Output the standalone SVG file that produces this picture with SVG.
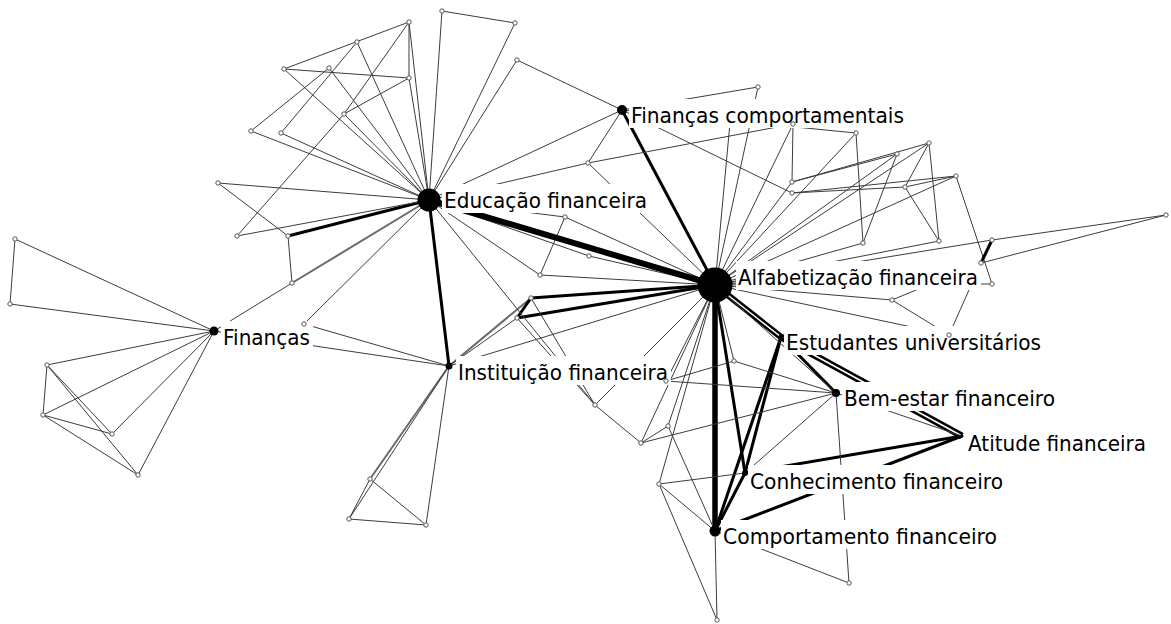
<svg xmlns="http://www.w3.org/2000/svg" width="1171" height="624" viewBox="0 0 1171 624">
<style>
.t{stroke:#3c3c3c;stroke-width:1;fill:none}
.g{stroke:#6a6a6a;stroke-width:2;fill:none}
.k{stroke:#000;stroke-width:3;fill:none}
.K{stroke:#000;stroke-width:6;fill:none}
.s{fill:#fff;stroke:#555;stroke-width:1}
.h{fill:#000}
.bg{fill:#fff}
.lb{font-family:"DejaVu Sans","Liberation Sans",sans-serif;font-size:22px;fill:#000}
</style>
<rect width="1171" height="624" fill="#fff"/>
<g id="edges">
<!-- upper-left cluster -->
<line class="t" x1="442" y1="11" x2="515" y2="23"/>
<line class="t" x1="442" y1="11" x2="429" y2="200"/>
<line class="t" x1="515" y1="23" x2="429" y2="200"/>
<line class="t" x1="409" y1="22" x2="429" y2="200"/>
<line class="t" x1="409" y1="22" x2="409" y2="78"/>
<line class="t" x1="284" y1="69" x2="409" y2="22"/>
<line class="t" x1="284" y1="69" x2="409" y2="78"/>
<line class="t" x1="357" y1="42" x2="429" y2="200"/>
<line class="t" x1="357" y1="42" x2="281" y2="133"/>
<line class="t" x1="329" y1="68" x2="429" y2="200"/>
<line class="t" x1="329" y1="68" x2="251" y2="131"/>
<line class="t" x1="409" y1="78" x2="344" y2="114"/>
<line class="t" x1="409" y1="22" x2="344" y2="114"/>
<line class="t" x1="409" y1="78" x2="429" y2="200"/>
<line class="t" x1="344" y1="114" x2="429" y2="200"/>
<line class="t" x1="284" y1="69" x2="429" y2="200"/>
<line class="t" x1="281" y1="133" x2="429" y2="200"/>
<line class="t" x1="251" y1="131" x2="429" y2="200"/>
<line class="t" x1="218" y1="183" x2="429" y2="200"/>
<line class="t" x1="517" y1="60" x2="429" y2="200"/>
<line class="t" x1="517" y1="60" x2="622" y2="110"/>
<line class="t" x1="588" y1="163" x2="429" y2="200"/>
<line class="t" x1="218" y1="183" x2="288" y2="236"/>
<line class="t" x1="288" y1="236" x2="292" y2="283"/>
<line class="k" x1="288" y1="236" x2="429" y2="200"/>
<line class="t" x1="237" y1="236" x2="429" y2="200"/>
<line class="t" x1="237" y1="236" x2="344" y2="114"/>
<line class="t" x1="292" y1="283" x2="214" y2="331"/>
<line class="g" x1="292" y1="283" x2="429" y2="200"/>
<line class="t" x1="304" y1="324" x2="429" y2="200"/>
<line class="t" x1="304" y1="324" x2="449" y2="366"/>
<line class="t" x1="214" y1="331" x2="449" y2="366"/>
<!-- Financas cluster -->
<line class="t" x1="15" y1="239" x2="10" y2="304"/>
<line class="t" x1="15" y1="239" x2="214" y2="331"/>
<line class="t" x1="10" y1="304" x2="214" y2="331"/>
<line class="t" x1="47" y1="365" x2="214" y2="331"/>
<line class="t" x1="43" y1="415" x2="214" y2="331"/>
<line class="t" x1="47" y1="365" x2="43" y2="415"/>
<line class="t" x1="47" y1="365" x2="112" y2="434"/>
<line class="t" x1="47" y1="365" x2="138" y2="475"/>
<line class="t" x1="43" y1="415" x2="112" y2="434"/>
<line class="t" x1="43" y1="415" x2="138" y2="475"/>
<line class="t" x1="112" y1="434" x2="214" y2="331"/>
<line class="t" x1="138" y1="475" x2="214" y2="331"/>
<!-- Instituicao -->
<line class="k" x1="449" y1="366" x2="429" y2="200"/>
<line class="g" x1="449" y1="366" x2="370" y2="479"/>
<line class="t" x1="449" y1="366" x2="349" y2="519"/>
<line class="t" x1="449" y1="366" x2="426" y2="525"/>
<line class="t" x1="370" y1="479" x2="349" y2="519"/>
<line class="t" x1="370" y1="479" x2="426" y2="525"/>
<line class="t" x1="349" y1="519" x2="426" y2="525"/>
<line class="g" x1="449" y1="366" x2="531" y2="298"/>
<line class="t" x1="449" y1="366" x2="517" y2="318"/>
<line class="t" x1="449" y1="366" x2="715" y2="285"/>
<!-- centre-left -->
<line class="k" x1="531" y1="298" x2="517" y2="318"/>
<line class="k" x1="531" y1="298" x2="715" y2="285"/>
<line class="k" x1="517" y1="318" x2="715" y2="285"/>
<line class="t" x1="540" y1="275" x2="715" y2="285"/>
<line class="t" x1="540" y1="275" x2="429" y2="200"/>
<line class="t" x1="540" y1="275" x2="565" y2="217"/>
<line class="t" x1="565" y1="217" x2="429" y2="200"/>
<line class="t" x1="565" y1="217" x2="715" y2="285"/>
<line class="t" x1="589" y1="256" x2="429" y2="200"/>
<line class="t" x1="589" y1="256" x2="715" y2="285"/>
<line class="t" x1="595" y1="405" x2="429" y2="200"/>
<line class="t" x1="595" y1="405" x2="531" y2="298"/>
<line class="t" x1="595" y1="405" x2="517" y2="318"/>
<line class="t" x1="595" y1="405" x2="715" y2="285"/>
<line class="K" x1="429" y1="200" x2="715" y2="285"/>
<line class="k" x1="622" y1="110" x2="715" y2="285"/>
<line class="t" x1="622" y1="110" x2="429" y2="200"/>
<line class="t" x1="622" y1="110" x2="588" y2="163"/>
<line class="t" x1="588" y1="163" x2="715" y2="285"/>
<line class="t" x1="588" y1="163" x2="793" y2="124"/>
<line class="t" x1="622" y1="110" x2="792" y2="193"/>
<line class="t" x1="622" y1="110" x2="856" y2="133"/>
<line class="t" x1="622" y1="110" x2="758" y2="87"/>
<!-- upper-right cluster -->
<line class="t" x1="715" y1="285" x2="758" y2="87"/>
<line class="t" x1="715" y1="285" x2="731" y2="112"/>
<line class="t" x1="793" y1="124" x2="792" y2="182"/>
<line class="t" x1="715" y1="285" x2="793" y2="124"/>
<line class="t" x1="715" y1="285" x2="856" y2="133"/>
<line class="t" x1="715" y1="285" x2="792" y2="182"/>
<line class="t" x1="792" y1="182" x2="897" y2="154"/>
<line class="t" x1="792" y1="193" x2="956" y2="176"/>
<line class="t" x1="792" y1="193" x2="905" y2="187"/>
<line class="t" x1="715" y1="285" x2="897" y2="154"/>
<line class="t" x1="929" y1="143" x2="905" y2="187"/>
<line class="t" x1="929" y1="143" x2="939" y2="241"/>
<line class="t" x1="715" y1="285" x2="929" y2="143"/>
<line class="t" x1="905" y1="187" x2="939" y2="241"/>
<line class="t" x1="905" y1="187" x2="956" y2="176"/>
<line class="t" x1="715" y1="285" x2="956" y2="176"/>
<line class="t" x1="956" y1="176" x2="992" y2="284"/>
<line class="t" x1="715" y1="285" x2="939" y2="241"/>
<line class="t" x1="992" y1="240" x2="1166" y2="215"/>
<line class="t" x1="981" y1="263" x2="1166" y2="215"/>
<line class="k" x1="992" y1="240" x2="981" y2="263"/>
<line class="t" x1="715" y1="285" x2="992" y2="240"/>
<line class="t" x1="715" y1="285" x2="981" y2="263"/>
<line class="t" x1="715" y1="285" x2="992" y2="284"/>
<line class="t" x1="715" y1="285" x2="892" y2="300"/>
<line class="t" x1="892" y1="300" x2="981" y2="263"/>
<line class="t" x1="892" y1="300" x2="949" y2="335"/>
<line class="t" x1="715" y1="285" x2="949" y2="335"/>
<line class="t" x1="949" y1="335" x2="981" y2="263"/>
<line class="t" x1="715" y1="285" x2="863" y2="243"/>
<line class="t" x1="856" y1="133" x2="863" y2="243"/>
<line class="t" x1="897" y1="154" x2="863" y2="243"/>
<line class="t" x1="929" y1="143" x2="792" y2="182"/>
<!-- lower -->
<line class="K" x1="715" y1="285" x2="715" y2="531" style="stroke-width:5.5"/>
<line class="k" x1="715" y1="285" x2="745" y2="473"/>
<line class="k" x1="713.8" y1="286.6" x2="779.8" y2="338.6" style="stroke-width:2.5"/>
<line class="k" x1="716.2" y1="283.4" x2="782.2" y2="335.4" style="stroke-width:2.5"/>
<line class="k" x1="781" y1="337" x2="745" y2="473"/>
<line class="k" x1="781" y1="337" x2="715" y2="531"/>
<line class="k" x1="781" y1="337" x2="836" y2="393"/>
<line class="k" x1="780" y1="338.8" x2="961" y2="437.8" style="stroke-width:2.5"/>
<line class="k" x1="782" y1="335.2" x2="963" y2="434.2" style="stroke-width:2.5"/>
<line class="k" x1="745" y1="473" x2="715" y2="531"/>
<line class="k" x1="745" y1="473" x2="962" y2="436"/>
<line class="k" x1="715" y1="531" x2="962" y2="436"/>
<line class="t" x1="715" y1="285" x2="836" y2="393"/>
<line class="t" x1="836" y1="393" x2="962" y2="436"/>
<line class="t" x1="715" y1="285" x2="666" y2="381"/>
<line class="t" x1="666" y1="381" x2="836" y2="393"/>
<line class="t" x1="666" y1="381" x2="734" y2="361"/>
<line class="t" x1="734" y1="361" x2="836" y2="393"/>
<line class="t" x1="641" y1="443" x2="836" y2="393"/>
<line class="t" x1="641" y1="443" x2="668" y2="426"/>
<line class="t" x1="668" y1="426" x2="715" y2="531"/>
<line class="t" x1="659" y1="484" x2="715" y2="531"/>
<line class="t" x1="659" y1="484" x2="717" y2="620"/>
<line class="t" x1="659" y1="484" x2="745" y2="473"/>
<line class="t" x1="715" y1="531" x2="717" y2="620"/>
<line class="t" x1="715" y1="531" x2="849" y2="583"/>
<line class="t" x1="849" y1="583" x2="836" y2="393"/>
<line class="t" x1="745" y1="473" x2="836" y2="393"/>
<line class="t" x1="715" y1="285" x2="641" y2="443"/>
<line class="t" x1="715" y1="285" x2="668" y2="426"/>
<line class="t" x1="715" y1="285" x2="659" y2="484"/>
<line class="t" x1="595" y1="405" x2="641" y2="443"/>
<line class="t" x1="715" y1="285" x2="734" y2="361"/>
</g>
<!-- hub nodes with labels -->
<g id="n-educacao">
<rect class="bg" x="442" y="184" width="208" height="29"/>
<circle class="h" cx="429" cy="200" r="11.5"/>
<text class="lb" x="444" y="208" textLength="203" lengthAdjust="spacingAndGlyphs">Educação financeira</text>
</g>
<g id="n-alfabetizacao">
<rect class="bg" x="736" y="261" width="245" height="29"/>
<circle class="h" cx="715" cy="285" r="17.5"/>
<text class="lb" x="738" y="285" textLength="240" lengthAdjust="spacingAndGlyphs">Alfabetização financeira</text>
</g>
<g id="n-financas-comportamentais">
<rect class="bg" x="629" y="99" width="278" height="29"/>
<circle class="h" cx="622" cy="110" r="5"/>
<text class="lb" x="631" y="123" textLength="273" lengthAdjust="spacingAndGlyphs">Finanças comportamentais</text>
</g>
<g id="n-financas">
<rect class="bg" x="221" y="321" width="92" height="29"/>
<circle class="h" cx="214" cy="331" r="4.5"/>
<text class="lb" x="223" y="345" textLength="87" lengthAdjust="spacingAndGlyphs">Finanças</text>
</g>
<g id="n-instituicao">
<rect class="bg" x="456" y="356" width="215" height="29"/>
<circle class="h" cx="449" cy="366" r="3.5"/>
<text class="lb" x="458" y="380" textLength="210" lengthAdjust="spacingAndGlyphs">Instituição financeira</text>
</g>
<g id="n-estudantes">
<rect class="bg" x="784" y="326" width="260" height="29"/>
<circle class="h" cx="781" cy="337" r="2.5"/>
<text class="lb" x="786" y="350" textLength="255" lengthAdjust="spacingAndGlyphs">Estudantes universitários</text>
</g>
<g id="n-bem-estar">
<rect class="bg" x="842" y="382" width="216" height="29"/>
<circle class="h" cx="836" cy="393" r="4"/>
<text class="lb" x="844" y="406" textLength="211" lengthAdjust="spacingAndGlyphs">Bem-estar financeiro</text>
</g>
<g id="n-atitude">
<rect class="bg" x="966" y="427" width="183" height="29"/>
<circle class="h" cx="962" cy="436" r="1.5"/>
<text class="lb" x="968" y="451" textLength="178" lengthAdjust="spacingAndGlyphs">Atitude financeira</text>
</g>
<g id="n-conhecimento">
<rect class="bg" x="748" y="465" width="258" height="29"/>
<circle class="h" cx="745" cy="473" r="3"/>
<text class="lb" x="750" y="489" textLength="253" lengthAdjust="spacingAndGlyphs">Conhecimento financeiro</text>
</g>
<g id="n-comportamento">
<rect class="bg" x="721" y="520" width="279" height="29"/>
<circle class="h" cx="715" cy="531" r="5.5"/>
<text class="lb" x="723" y="544" textLength="274" lengthAdjust="spacingAndGlyphs">Comportamento financeiro</text>
</g>
<!-- small nodes -->
<g id="n-u1"><circle class="s" cx="409" cy="22" r="2.2"/></g>
<g id="n-u2"><circle class="s" cx="442" cy="11" r="2.2"/></g>
<g id="n-u3"><circle class="s" cx="515" cy="23" r="2.2"/></g>
<g id="n-u4"><circle class="s" cx="357" cy="42" r="2.2"/></g>
<g id="n-u5"><circle class="s" cx="329" cy="68" r="2.2"/></g>
<g id="n-u6"><circle class="s" cx="409" cy="78" r="2.2"/></g>
<g id="n-u7"><circle class="s" cx="344" cy="114" r="2.2"/></g>
<g id="n-u8"><circle class="s" cx="284" cy="69" r="2.2"/></g>
<g id="n-u9"><circle class="s" cx="251" cy="131" r="2.2"/></g>
<g id="n-u10"><circle class="s" cx="281" cy="133" r="2.2"/></g>
<g id="n-u11"><circle class="s" cx="218" cy="183" r="2.2"/></g>
<g id="n-u12"><circle class="s" cx="517" cy="60" r="2.2"/></g>
<g id="n-u13"><circle class="s" cx="588" cy="163" r="2.2"/></g>
<g id="n-u14"><circle class="s" cx="288" cy="236" r="2.2"/></g>
<g id="n-u15"><circle class="s" cx="292" cy="283" r="2.2"/></g>
<g id="n-u16"><circle class="s" cx="237" cy="236" r="2.2"/></g>
<g id="n-u17"><circle class="s" cx="304" cy="324" r="2.2"/></g>
<g id="n-f1"><circle class="s" cx="15" cy="239" r="2.2"/></g>
<g id="n-f2"><circle class="s" cx="10" cy="304" r="2.2"/></g>
<g id="n-f3"><circle class="s" cx="47" cy="365" r="2.2"/></g>
<g id="n-f4"><circle class="s" cx="43" cy="415" r="2.2"/></g>
<g id="n-f5"><circle class="s" cx="112" cy="434" r="2.2"/></g>
<g id="n-f6"><circle class="s" cx="138" cy="475" r="2.2"/></g>
<g id="n-i1"><circle class="s" cx="370" cy="479" r="2.2"/></g>
<g id="n-i2"><circle class="s" cx="349" cy="519" r="2.2"/></g>
<g id="n-i3"><circle class="s" cx="426" cy="525" r="2.2"/></g>
<g id="n-c1"><circle class="s" cx="531" cy="298" r="2.2"/></g>
<g id="n-c2"><circle class="s" cx="517" cy="318" r="2.2"/></g>
<g id="n-c3"><circle class="s" cx="540" cy="275" r="2.2"/></g>
<g id="n-c4"><circle class="s" cx="565" cy="217" r="2.2"/></g>
<g id="n-c5"><circle class="s" cx="589" cy="256" r="2.2"/></g>
<g id="n-c6"><circle class="s" cx="595" cy="405" r="2.2"/></g>
<g id="n-r1"><circle class="s" cx="758" cy="87" r="2.2"/></g>
<g id="n-r2"><circle class="s" cx="793" cy="124" r="2.2"/></g>
<g id="n-r3"><circle class="s" cx="856" cy="133" r="2.2"/></g>
<g id="n-r4"><circle class="s" cx="792" cy="182" r="2.2"/></g>
<g id="n-r5"><circle class="s" cx="792" cy="193" r="2.2"/></g>
<g id="n-r6"><circle class="s" cx="897" cy="154" r="2.2"/></g>
<g id="n-r7"><circle class="s" cx="929" cy="143" r="2.2"/></g>
<g id="n-r8"><circle class="s" cx="905" cy="187" r="2.2"/></g>
<g id="n-r9"><circle class="s" cx="956" cy="176" r="2.2"/></g>
<g id="n-r10"><circle class="s" cx="939" cy="241" r="2.2"/></g>
<g id="n-r11"><circle class="s" cx="992" cy="240" r="2.2"/></g>
<g id="n-r12"><circle class="s" cx="981" cy="263" r="2.2"/></g>
<g id="n-r13"><circle class="s" cx="992" cy="284" r="2.2"/></g>
<g id="n-r14"><circle class="s" cx="1166" cy="215" r="2.2"/></g>
<g id="n-r15"><circle class="s" cx="892" cy="300" r="2.2"/></g>
<g id="n-r16"><circle class="s" cx="949" cy="335" r="2.2"/></g>
<g id="n-r17"><circle class="s" cx="863" cy="243" r="2.2"/></g>
<g id="n-l1"><circle class="s" cx="666" cy="381" r="2.2"/></g>
<g id="n-l2"><circle class="s" cx="734" cy="361" r="2.2"/></g>
<g id="n-l3"><circle class="s" cx="641" cy="443" r="2.2"/></g>
<g id="n-l4"><circle class="s" cx="668" cy="426" r="2.2"/></g>
<g id="n-l5"><circle class="s" cx="659" cy="484" r="2.2"/></g>
<g id="n-l6"><circle class="s" cx="717" cy="620" r="2.2"/></g>
<g id="n-l7"><circle class="s" cx="849" cy="583" r="2.2"/></g>
</svg>
